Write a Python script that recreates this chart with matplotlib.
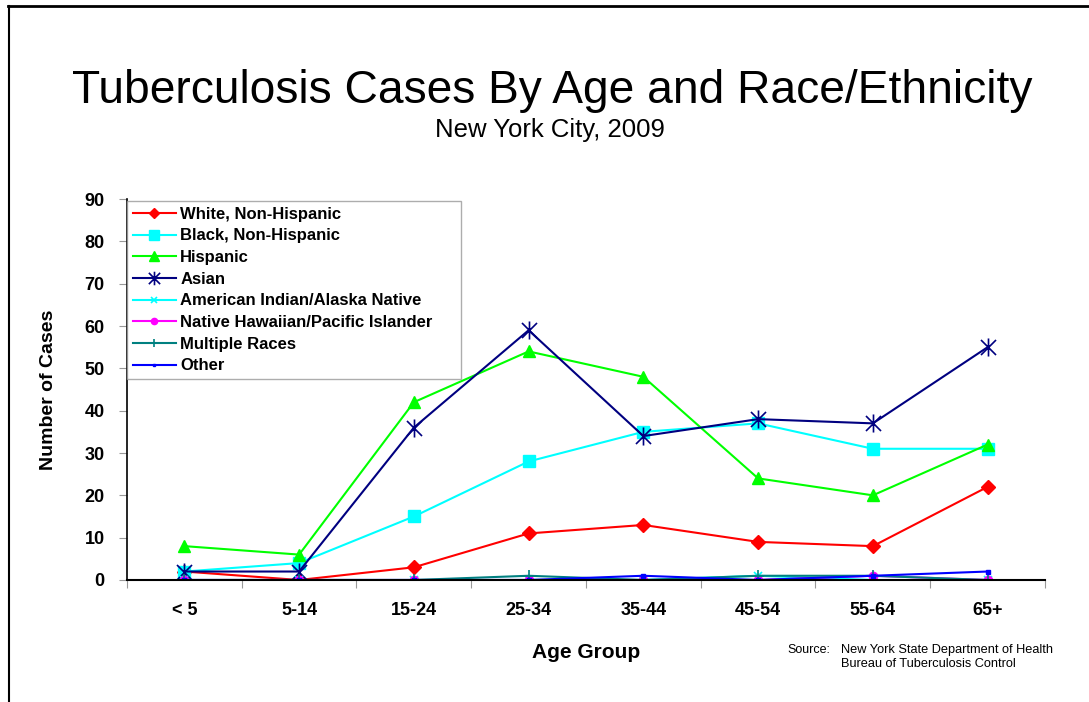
import matplotlib.pyplot as plt
from matplotlib.lines import Line2D
from matplotlib.path import Path

plt.rcParams['font.family'] = ['Liberation Sans', 'DejaVu Sans']

AGE_GROUPS = ['< 5', '5-14', '15-24', '25-34', '35-44', '45-54', '55-64', '65+']

white = [2, 0, 3, 11, 13, 9, 8, 22]
black = [2, 4, 15, 28, 35, 37, 31, 31]
hispanic = [8, 6, 42, 54, 48, 24, 20, 32]
asian = [2, 2, 36, 59, 34, 38, 37, 55]
amer_indian = [0, 0, 0, 0, 0, 1, 0, 0]
hawaiian = [0, 0, 0, 0, 0, 0, 1, 0]
multiple = [0, 0, 0, 1, 0, 1, 1, 0]
other = [0, 0, 0, 0, 1, 0, 1, 2]

# Excel-style star: an X with a vertical bar through it
STAR = Path([(-1, -1), (1, 1), (1, -1), (-1, 1), (0, -1.2), (0, 1.2)],
            [Path.MOVETO, Path.LINETO, Path.MOVETO, Path.LINETO,
             Path.MOVETO, Path.LINETO])

SERIES = [
    ('White, Non-Hispanic', white, '#ff0000', 'D', 7),
    ('Black, Non-Hispanic', black, '#00ffff', 's', 9),
    ('Hispanic', hispanic, '#00ff00', '^', 9),
    ('Asian', asian, '#000080', STAR, 13),
    ('American Indian/Alaska Native', amer_indian, '#00ffff', 'x', 6),
    ('Native Hawaiian/Pacific Islander', hawaiian, '#ff00ff', 'o', 6),
    ('Multiple Races', multiple, '#008080', '+', 8),
    ('Other', other, '#0000ff', 's', 2.5),
]


def main():
    fig = plt.figure(figsize=(10.89, 7.02), dpi=100)
    ax = fig.add_axes([0.1166, 0.1738, 0.843, 0.5427])
    x = range(len(AGE_GROUPS))

    for label, vals, color, marker, size in SERIES:
        thin = marker in ('x', '+') or marker is STAR
        ax.plot(x, vals, color=color, marker=marker, markersize=size,
                linewidth=1.5, label=label,
                markeredgewidth=1.2 if thin else 1)

    ax.set_xlim(-0.5, 7.5)
    ax.set_ylim(0, 90)
    ax.set_yticks(range(0, 91, 10))
    ax.set_xticks([i - 0.5 for i in range(9)], minor=False)
    ax.set_xticklabels([''] * 9)
    ax.set_xticks(list(x), minor=True)
    ax.set_xticklabels(AGE_GROUPS, minor=True)
    ax.tick_params(axis='x', which='minor', length=0, pad=16,
                   labelsize=13)
    ax.tick_params(axis='x', which='major', length=6, color='#999999')
    ax.tick_params(axis='y', length=6, color='#999999', labelsize=13, pad=10)
    for t in ax.get_xticklabels(minor=True) + ax.get_yticklabels():
        t.set_fontweight('bold')

    for s in ('top', 'right'):
        ax.spines[s].set_visible(False)
    ax.spines['left'].set_linewidth(1.2)
    ax.spines['bottom'].set_linewidth(1.5)

    ax.set_ylabel('Number of Cases', fontsize=14, fontweight='bold',
                  labelpad=20)
    ax.set_xlabel('Age Group', fontsize=15, fontweight='bold', labelpad=17)

    leg = ax.legend(loc='upper left', bbox_to_anchor=(0.0, 0.995, 0.364, 0),
                    mode='expand', fancybox=False, edgecolor='#999999',
                    handlelength=2.6, prop={'weight': 'bold', 'size': 12},
                    borderpad=0.35, labelspacing=0.4, handletextpad=0.25,
                    borderaxespad=0, markerscale=0.75)
    leg.get_frame().set_linewidth(1.0)

    fig.text(0.507, 0.871, 'Tuberculosis Cases By Age and Race/Ethnicity',
             ha='center', va='center', fontsize=33.2)
    fig.text(0.505, 0.815, 'New York City, 2009', ha='center', va='center',
             fontsize=18.5)

    fig.text(0.7227, 0.074, 'Source:', fontsize=9, va='center')
    fig.text(0.7723, 0.074, 'New York State Department of Health',
             fontsize=9.2, va='center')
    fig.text(0.7723, 0.054, 'Bureau of Tuberculosis Control',
             fontsize=9.2, va='center')

    # slide frame lines
    fig.add_artist(Line2D([0.0075, 1.0], [0.9915, 0.9915], color='black',
                          linewidth=2, transform=fig.transFigure))
    fig.add_artist(Line2D([0.0085, 0.0085], [0.9915, 0.0], color='black',
                          linewidth=1.5, transform=fig.transFigure))

    fig.savefig('out.png', dpi=100)


main()
